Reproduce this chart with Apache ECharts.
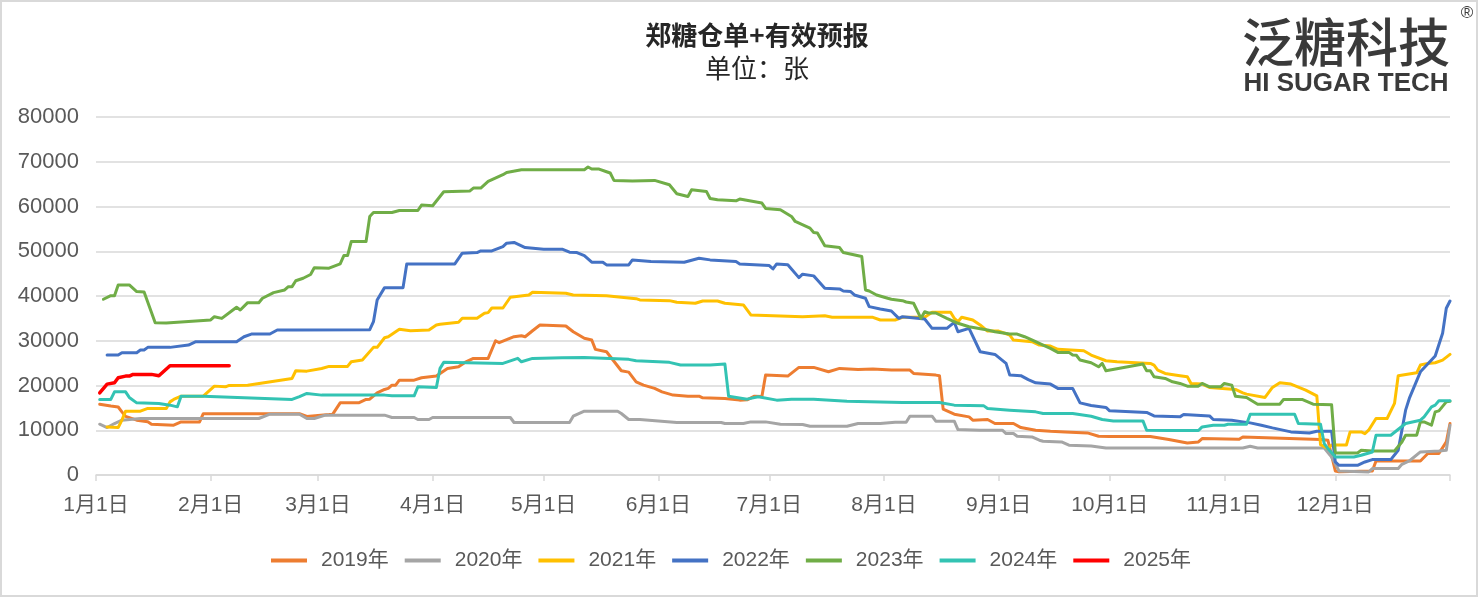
<!DOCTYPE html>
<html>
<head>
<meta charset="utf-8">
<script src="https://cdn.jsdelivr.net/npm/echarts@6/dist/echarts.min.js"></script>
<style>
html,body{margin:0;padding:0;background:#fff;}
#chart{width:1479px;height:598px;}
</style>
</head>
<body>
<div id="chart"></div>
<script>
// ---- Tick labels (month starts) ----
const monthLabels = ['1月1日','2月1日','3月1日','4月1日','5月1日','6月1日','7月1日','8月1日','9月1日','10月1日','11月1日','12月1日'];
const monthStartDay = [0,31,60,91,121,152,182,213,244,274,305,335];
const yTicks = [0,10000,20000,30000,40000,50000,60000,70000,80000];
const seriesNames = ['2019年','2020年','2021年','2022年','2023年','2024年','2025年'];
const seriesColors = ['#ED7D31','#A5A5A5','#FFC000','#4472C4','#70AD47','#33C3B3','#FF0000'];

// ---- Series values: [day of year (0 = 1月1日), 张] ----
const y2019 = [[1,15800],[4,15400],[6,15200],[7,14100],[8,13100],[11,12250],[14,11900],[15,11350],[21,11130],[23,11870],[28,11870],[29,13700],[55,13700],[57,13100],[63,13500],[64,13600],[66,16120],[71,16120],[73,16880],[74,16950],[76,18360],[78,19120],[79,19350],[80,20080],[81,20080],[82,21200],[86,21200],[88,21720],[92,22100],[95,23820],[98,24180],[100,25300],[102,26060],[106,26060],[108,30000],[109,29560],[113,30900],[115,31130],[116,30900],[118,32240],[120,33520],[127,33300],[129,32020],[132,30540],[134,30160],[135,28080],[138,27540],[142,23290],[144,22990],[146,20820],[148,20080],[151,19350],[153,18580],[156,17850],[160,17620],[163,17620],[164,17240],[170,17110],[174,16730],[176,16800],[178,17620],[180,17550],[181,22320],[187,22100],[190,24050],[194,24050],[198,23060],[201,23820],[206,23600],[210,23670],[215,23440],[220,23440],[221,22700],[227,22320],[228,22170],[229,14710],[232,13590],[236,12990],[237,12250],[241,12400],[243,11510],[248,11510],[250,10600],[254,10010],[258,9780],[262,9630],[268,9400],[271,8670],[274,8600],[285,8600],[290,7930],[295,7160],[298,7390],[299,8150],[309,8000],[310,8510],[331,7930],[333,7770],[335,900],[336,700],[345,900],[346,3130],[358,3130],[360,4790],[363,4790],[365,7390],[366,11510]];
const y2020 = [[1,11350],[3,10610],[5,11500],[7,12250],[12,12630],[44,12630],[47,13590],[55,13590],[57,12630],[59,12630],[62,13370],[78,13370],[80,12850],[86,12850],[87,12400],[90,12400],[91,12850],[112,12850],[113,11730],[128,11730],[129,13140],[132,14260],[141,14260],[142,13750],[144,12400],[147,12400],[152,12090],[157,11730],[169,11730],[170,11510],[175,11510],[177,11870],[181,11870],[185,11350],[191,11300],[193,10900],[203,10900],[206,11510],[212,11510],[216,11800],[219,11800],[220,13140],[226,13140],[227,12020],[232,12020],[233,10160],[239,10010],[245,10010],[246,9270],[248,9270],[249,8670],[253,8510],[255,7770],[256,7550],[261,7390],[263,6650],[269,6490],[273,6050],[310,6050],[312,6430],[314,6050],[332,6050],[334,4030],[336,900],[344,670],[345,1430],[352,1430],[353,2390],[355,3130],[358,5150],[363,5370],[365,5530],[366,11130]];
const y2021 = [[3,10750],[6,10610],[7,12250],[8,14260],[12,14260],[14,14870],[19,14870],[20,16340],[21,16880],[23,17620],[29,17620],[32,19860],[35,19710],[36,20010],[41,20080],[53,21580],[54,23290],[57,23210],[61,23800],[63,24270],[68,24270],[69,25300],[72,25680],[75,28520],[76,28520],[78,30670],[79,30900],[82,32550],[85,32240],[90,32400],[92,33520],[93,33670],[98,34120],[99,35010],[103,35010],[105,36140],[106,36290],[107,37320],[110,37320],[112,39720],[117,40230],[118,40840],[127,40610],[129,40230],[138,40080],[146,39410],[147,39120],[155,38960],[157,38600],[162,38380],[164,38890],[168,38890],[170,38380],[175,38000],[177,35760],[191,35380],[197,35600],[199,35240],[210,35240],[212,34640],[216,34640],[218,35240],[224,35240],[226,36360],[231,36360],[232,35010],[233,34260],[234,35240],[237,34640],[239,33520],[241,32170],[244,32170],[247,31280],[248,30160],[253,29800],[255,29040],[258,28820],[260,28080],[267,27760],[269,26800],[273,25530],[276,25300],[285,24940],[286,24570],[287,23440],[289,22700],[293,22170],[295,21940],[296,20460],[299,20310],[301,19570],[308,19120],[310,18360],[311,18070],[316,17330],[318,19570],[320,20600],[323,20310],[327,18960],[330,17690],[331,6800],[333,5910],[334,6700],[338,6700],[339,9630],[342,9630],[343,9250],[344,10010],[346,12630],[349,12630],[351,15990],[352,22170],[357,22840],[358,24570],[360,24940],[362,25080],[364,25680],[366,26950]];
const y2022 = [[3,26800],[6,26800],[7,27320],[11,27320],[12,27920],[13,27920],[14,28520],[20,28520],[25,29040],[27,29780],[38,29780],[40,30900],[42,31500],[47,31500],[49,32400],[54,32400],[74,32470],[75,34260],[76,39120],[78,41870],[83,41870],[84,47170],[97,47170],[99,49570],[103,49710],[104,50080],[107,50080],[110,51050],[111,51810],[113,51960],[116,50830],[121,50460],[126,50460],[128,49790],[130,49710],[132,49030],[134,47550],[137,47550],[138,46950],[144,46950],[145,48070],[150,47700],[159,47550],[163,48440],[166,48070],[173,47700],[174,47170],[182,46800],[183,46060],[184,47170],[187,47000],[190,44110],[191,44870],[194,44500],[195,43600],[197,41730],[201,41580],[202,41130],[204,40980],[205,40230],[208,39490],[209,37620],[212,37100],[215,36650],[217,35010],[218,35380],[224,34860],[226,32780],[230,32780],[232,34120],[233,32020],[236,32780],[239,27540],[243,26950],[246,24940],[247,22320],[250,22200],[252,21300],[254,20600],[258,20310],[260,19350],[264,19350],[266,16120],[269,15540],[273,15090],[274,14330],[284,13970],[286,13210],[293,12990],[294,13510],[301,13210],[302,12400],[307,12250],[310,11870],[312,11650],[315,11130],[318,10530],[323,9630],[328,9400],[330,9780],[334,9780],[335,2910],[336,2170],[341,2170],[343,2910],[345,3450],[350,3450],[352,5530],[354,14490],[355,17110],[358,23060],[362,26580],[364,31660],[365,37260],[366,38890]];
const y2023 = [[2,39270],[4,40080],[5,40080],[6,42470],[9,42470],[11,41000],[13,40900],[16,34040],[19,33960],[31,34640],[32,35380],[34,35000],[37,36870],[38,37480],[39,36870],[41,38510],[44,38510],[45,39490],[48,40750],[51,41350],[52,42090],[53,42090],[54,43400],[56,43970],[58,44800],[59,46300],[63,46210],[66,47170],[67,49030],[68,49030],[69,52170],[73,52170],[74,57770],[75,58660],[80,58660],[82,59110],[87,59110],[88,60320],[91,60170],[94,63300],[101,63450],[102,64120],[104,64120],[106,65600],[110,67100],[111,67620],[115,68220],[132,68220],[133,68820],[134,68370],[136,68370],[138,67770],[139,67480],[140,65830],[145,65680],[151,65830],[155,64860],[157,62850],[160,62250],[161,63750],[165,63370],[166,61800],[168,61510],[173,61280],[174,61660],[180,60770],[181,59560],[185,59270],[188,57770],[189,56650],[193,55170],[194,54180],[195,54100],[197,51210],[201,50830],[202,49710],[207,48810],[208,41350],[209,41130],[211,40230],[214,39490],[215,39270],[218,38960],[219,38660],[221,38380],[223,35010],[224,36500],[225,36200],[227,36200],[230,35010],[233,33900],[236,33140],[241,32400],[243,32020],[247,31500],[249,31500],[251,30900],[254,29780],[256,29040],[258,28300],[260,27400],[263,27400],[264,26800],[265,26760],[266,25680],[269,25080],[271,24180],[272,24940],[273,23290],[283,24790],[284,23290],[285,23290],[286,21940],[289,21580],[291,20820],[293,20460],[295,19860],[298,19860],[299,20460],[301,19700],[304,19700],[305,20460],[307,20090],[308,17620],[311,17330],[314,15830],[320,15830],[321,16880],[326,16880],[329,15830],[334,15680],[335,4930],[341,4930],[342,5530],[345,5380],[351,5380],[353,7390],[354,8890],[357,8890],[358,11870],[359,11870],[361,11130],[362,14110],[363,14330],[365,16340],[366,16500]];
const y2024 = [[1,16880],[4,16880],[5,18580],[8,18580],[9,17330],[11,16120],[17,15990],[20,15610],[22,15230],[23,17620],[29,17620],[53,16880],[55,17500],[57,18220],[61,17850],[78,17850],[80,17690],[86,17690],[87,19700],[92,19570],[93,23820],[94,25170],[110,24940],[114,26060],[115,25300],[118,26060],[126,26210],[132,26280],[144,25840],[146,25530],[155,25170],[158,24570],[166,24570],[170,24790],[171,17620],[176,16950],[179,17470],[184,16730],[188,16950],[194,16950],[203,16500],[218,16210],[228,16210],[232,15610],[240,15450],[241,14870],[247,14490],[254,14110],[256,13750],[264,13750],[269,13140],[272,12400],[275,12090],[283,12090],[284,10010],[290,9940],[298,9940],[299,10750],[302,11130],[305,11130],[306,11350],[311,11350],[312,13590],[324,13590],[325,11510],[331,11350],[332,7030],[333,5910],[335,4030],[340,4030],[342,4410],[345,5150],[346,8890],[350,8890],[354,11510],[358,12250],[359,12990],[361,15230],[362,15610],[363,16570],[366,16570]];
const y2025 = [[1,18360],[3,20310],[5,20600],[6,21720],[8,22100],[9,22100],[10,22480],[15,22480],[17,22170],[20,24400],[36,24400]];

const seriesData = [y2019,y2020,y2021,y2022,y2023,y2024,y2025];

// Axis categories: each day of the year (leap-year calendar) plus the year-end boundary
const dayCount = 367;
const categories = [];
for (let i = 0; i < dayCount; i++) {
  const d = new Date(2024, 0, 1 + i);
  categories.push((d.getMonth() + 1) + '月' + d.getDate() + '日');
}

const chart = echarts.init(document.getElementById('chart'), null, {renderer: 'canvas'});
const txtColor = '#595959';
const font = "'Liberation Sans', 'Noto Sans CJK SC', sans-serif";

const option = {
  backgroundColor: '#ffffff',
  animation: false,
  grid: {left: 96, right: 29, top: 117, bottom: 123, containLabel: false},
  legend: {
    data: seriesNames,
    bottom: 22,
    left: 266,
    icon: 'rect',
    itemWidth: 36,
    itemHeight: 4,
    itemGap: 16,
    textStyle: {color: txtColor, fontSize: 21, fontFamily: font, padding: [0, 0, 0, 9]}
  },
  xAxis: {
    type: 'category',
    data: categories,
    boundaryGap: false,
    axisLine: {lineStyle: {color: '#D9D9D9', width: 1.5}},
    axisTick: {
      show: true, length: 6,
      lineStyle: {color: '#D9D9D9', width: 1.5},
      interval: function (i) { return monthStartDay.indexOf(i) >= 0 || i === dayCount - 1; }
    },
    axisLabel: {
      color: txtColor, fontSize: 21, fontFamily: font, margin: 20,
      interval: function (i) { return monthStartDay.indexOf(i) >= 0; },
      formatter: function (v, i) { const k = monthStartDay.indexOf(i); return k >= 0 ? monthLabels[k] : ''; }
    },
    splitLine: {show: false}
  },
  yAxis: {
    type: 'value',
    min: yTicks[0], max: yTicks[yTicks.length - 1], interval: 10000,
    axisLine: {show: false},
    axisTick: {show: false},
    axisLabel: {color: txtColor, fontSize: 22, fontFamily: font, margin: 17, formatter: function (v) { return String(v); }},
    splitLine: {lineStyle: {color: '#D9D9D9', width: 1.5}}
  },
  series: seriesNames.map(function (name, k) {
    return {
      name: name,
      type: 'line',
      data: seriesData[k],
      showSymbol: false,
      symbol: 'none',
      color: seriesColors[k],
      lineStyle: {width: k === 6 ? 3.5 : 3, color: seriesColors[k], cap: 'round', join: 'round'},
      z: 2 + k
    };
  }),
  graphic: [
    {type: 'rect', shape: {x: 1, y: 1, width: 1476, height: 595}, style: {fill: 'none', stroke: '#D9D9D9', lineWidth: 2}, silent: true},
    {type: 'text', x: 757, y: 35, style: {text: '郑糖仓单+有效预报', fill: '#262626', font: "bold 26px 'Noto Sans CJK SC'", textAlign: 'center', textVerticalAlign: 'middle'}},
    {type: 'text', x: 757, y: 68, style: {text: '单位：张', fill: '#262626', font: "26px 'Noto Sans CJK SC'", textAlign: 'center', textVerticalAlign: 'middle'}},
    {type: 'text', x: 1346, y: 42, style: {text: '泛糖科技', fill: '#3A3A3A', font: "500 52px 'Noto Sans CJK SC'", textAlign: 'center', textVerticalAlign: 'middle'}},
    {type: 'text', x: 1346, y: 84, style: {text: 'HI SUGAR TECH', fill: '#3A3A3A', font: "bold 26px 'Liberation Sans'", textAlign: 'center', textVerticalAlign: 'middle'}},
    {type: 'text', x: 1467, y: 13, style: {text: '®', fill: '#3A3A3A', font: "17px 'Liberation Sans'", textAlign: 'center', textVerticalAlign: 'middle'}}
  ]
};
chart.setOption(option);
</script>
</body>
</html>
